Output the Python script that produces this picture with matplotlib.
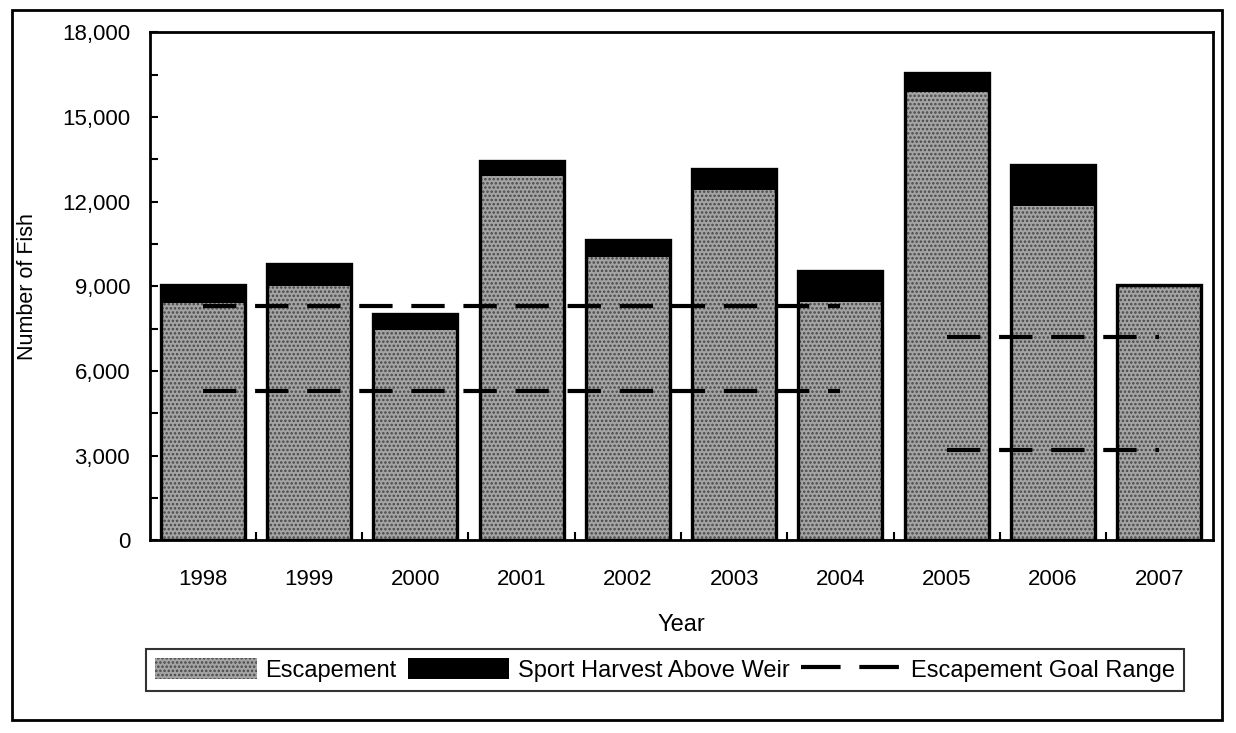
import numpy as np
import matplotlib.pyplot as plt
from matplotlib.patches import Patch, Rectangle
from matplotlib.lines import Line2D
from matplotlib.ticker import MultipleLocator, FuncFormatter

plt.rcParams['font.family'] = ['Liberation Sans', 'DejaVu Sans']
plt.rcParams['hatch.linewidth'] = 1.2

##########################################################################
# data
##########################################################################
years = ['1998', '1999', '2000', '2001', '2002', '2003', '2004', '2005', '2006', '2007']
escapement = [8400, 9000, 7450, 12900, 10050, 12400, 8450, 15900, 11850, 9050]
harvest = [650, 800, 550, 550, 600, 750, 1100, 650, 1450, 0]

# escapement goal range, two separate periods
goal_years_a = years[:7]
goal_low_a = [5300] * 7
goal_high_a = [8300] * 7
goal_years_b = years[7:]
goal_low_b = [3200] * 3
goal_high_b = [7200] * 3

##########################################################################
# plot
##########################################################################
fig = plt.figure(figsize=(12.36, 7.33), dpi=100)
ax = fig.add_axes([0.121, 0.263, 0.860, 0.693])

x = np.arange(len(years))
esc = np.array(escapement)
har = np.array(harvest)
bw = 0.79
gray = '#a4a4a4'

ax.bar(x, esc, bw, color=gray, edgecolor='#474747', hatch='....', linewidth=0, zorder=2)
ax.bar(x, har, bw, bottom=esc, color='black', linewidth=0, zorder=2)
ax.bar(x, esc + har, bw, fill=False, edgecolor='black', linewidth=2.4, zorder=3)

dash = (8, 4.5)
for yrs, lo, hi in [(goal_years_a, goal_low_a, goal_high_a),
                    (goal_years_b, goal_low_b, goal_high_b)]:
    xi = [years.index(y) for y in yrs]
    ax.plot(xi, lo, color='black', lw=3, dashes=dash, zorder=4)
    ax.plot(xi, hi, color='black', lw=3, dashes=dash, zorder=4)

ax.set_xlim(-0.5, len(years) - 0.5)
ax.set_ylim(0, 18000)
ax.yaxis.set_major_locator(MultipleLocator(3000))
ax.yaxis.set_minor_locator(MultipleLocator(1500))
ax.yaxis.set_major_formatter(FuncFormatter(lambda v, p: '{:,.0f}'.format(v)))
ax.set_xticks(x)
ax.set_xticklabels(years)
ax.set_xticks(x[:-1] + 0.5, minor=True)

ax.tick_params(axis='y', which='both', direction='in', length=6, width=1.5,
               labelsize=16, pad=14)
ax.tick_params(axis='x', which='major', length=0, labelsize=16, pad=21)
ax.tick_params(axis='x', which='minor', direction='in', length=6, width=1.5)

for s in ax.spines.values():
    s.set_linewidth(2)

ax.set_xlabel('Year', fontsize=17, labelpad=17)
ax.set_ylabel('Number of Fish', fontsize=15.5, labelpad=17)

handles = [Patch(facecolor=gray, edgecolor='#474747', hatch='....', linewidth=0),
           Patch(facecolor='black'),
           Line2D([], [], color='black', lw=3, dashes=(9.5, 4.5))]
labels = ['Escapement', 'Sport Harvest Above Weir', 'Escapement Goal Range']
leg = fig.legend(handles, labels, loc='center', bbox_to_anchor=(0.538, 0.086),
                 ncol=3, frameon=True, fancybox=False, edgecolor='black',
                 fontsize=17, handlelength=4.3, handleheight=1.0,
                 handletextpad=0.35, columnspacing=0.5, borderpad=0.4,
                 borderaxespad=0)
leg.get_frame().set_linewidth(1.5)

# outer frame round the whole figure
fig.add_artist(Rectangle((12 / 1236, 0.018), (1222 - 12) / 1236, 0.968,
                         transform=fig.transFigure, fill=False, lw=2, ec='black'))

fig.savefig('out.png', dpi=100)
